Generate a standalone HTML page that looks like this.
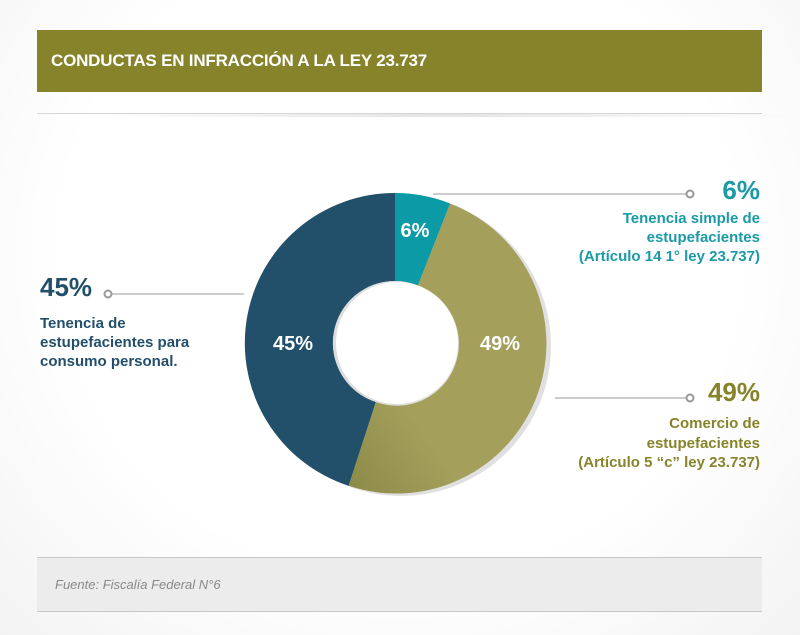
<!DOCTYPE html>
<html><head><meta charset="utf-8"><style>
body{margin:0;width:800px;height:635px;background:radial-gradient(ellipse at 50% 40%,#fff 60%,#f3f3f3 100%);font-family:"Liberation Sans",sans-serif;position:relative;overflow:hidden}
.t{position:absolute;font-weight:bold;white-space:nowrap}
</style></head><body>
<div style="position:absolute;left:37px;top:30px;width:725px;height:62px;background:#87832a"></div>
<div class="t" style="left:51px;top:51px;color:#fff;font-size:17px;letter-spacing:-0.2px">CONDUCTAS EN INFRACCIÓN A LA LEY 23.737</div>
<div style="position:absolute;left:37px;top:113px;width:725px;height:1px;background:#d5d5d5"></div>
<div style="position:absolute;left:80px;top:114px;width:360px;height:3px;background:linear-gradient(to right,rgba(200,200,200,0),#e4e4e4)"></div>
<div style="position:absolute;left:440px;top:114px;width:360px;height:3px;background:linear-gradient(to left,rgba(200,200,200,0),#e4e4e4)"></div>
<svg width="800" height="635" style="position:absolute;left:0;top:0">
<defs><linearGradient id="g" x1="0" y1="1" x2="1" y2="0"><stop offset="0" stop-color="#8c8a48"/><stop offset="0.3" stop-color="#a4a05c"/><stop offset="1" stop-color="#a4a05c"/></linearGradient></defs>
<circle cx="401" cy="346" r="150" fill="#e0e0e0"/>
<path d="M395 193 A150 150 0 0 1 450.2 203.5 L418 285.4 A62 62 0 0 0 395 281 Z" fill="#0c9aa7"/>
<path d="M450.2 203.5 A150 150 0 0 1 348.6 485.7 L375.8 402 A62 62 0 0 0 418 285.4 Z" fill="url(#g)"/>
<path d="M348.6 485.7 A150 150 0 0 1 395 193 L395 281 A62 62 0 0 0 375.8 402 Z" fill="#224f69"/>
<circle cx="395" cy="343" r="62" fill="#ddd"/>
<circle cx="397" cy="343" r="61" fill="#fff"/>
<g stroke="#999" stroke-width="1" fill="#fff">
<line x1="433" y1="194" x2="686" y2="194"/><circle cx="690" cy="194" r="3.5" stroke-width="2"/>
<line x1="112" y1="294" x2="244" y2="294"/><circle cx="108" cy="294" r="3.5" stroke-width="2"/>
<line x1="555" y1="398" x2="686" y2="398"/><circle cx="690" cy="398" r="3.5" stroke-width="2"/>
</g>
<g font-family="Liberation Sans,sans-serif" font-weight="bold" font-size="20" fill="#fff" text-anchor="middle">
<text x="415" y="237">6%</text><text x="293" y="350">45%</text><text x="500" y="350">49%</text>
</g>
</svg>
<div class="t" style="right:40px;top:175px;color:#1a9aa6;font-size:26px">6%</div>
<div class="t" style="right:40px;top:209px;color:#1a9aa6;font-size:15px;line-height:19px;text-align:right">Tenencia simple de<br>estupefacientes<br>(Artículo 14 1° ley 23.737)</div>
<div class="t" style="left:40px;top:272px;color:#234f6a;font-size:26px">45%</div>
<div class="t" style="left:40px;top:314px;color:#234f6a;font-size:15px;line-height:19px">Tenencia de<br>estupefacientes para<br>consumo personal.</div>
<div class="t" style="right:40px;top:377px;color:#87832a;font-size:26px">49%</div>
<div class="t" style="right:40px;top:414px;color:#87832a;font-size:15px;line-height:19.5px;text-align:right">Comercio de<br>estupefacientes<br>(Artículo 5 “c” ley 23.737)</div>
<div style="position:absolute;left:37px;top:557px;width:725px;height:55px;background:#ececec;border-top:1px solid #c8c8c8;border-bottom:1px solid #c8c8c8;box-sizing:border-box"></div>
<div style="position:absolute;left:55px;top:577px;font-style:italic;color:#888;font-size:13px">Fuente: Fiscalía Federal N°6</div>
</body></html>
